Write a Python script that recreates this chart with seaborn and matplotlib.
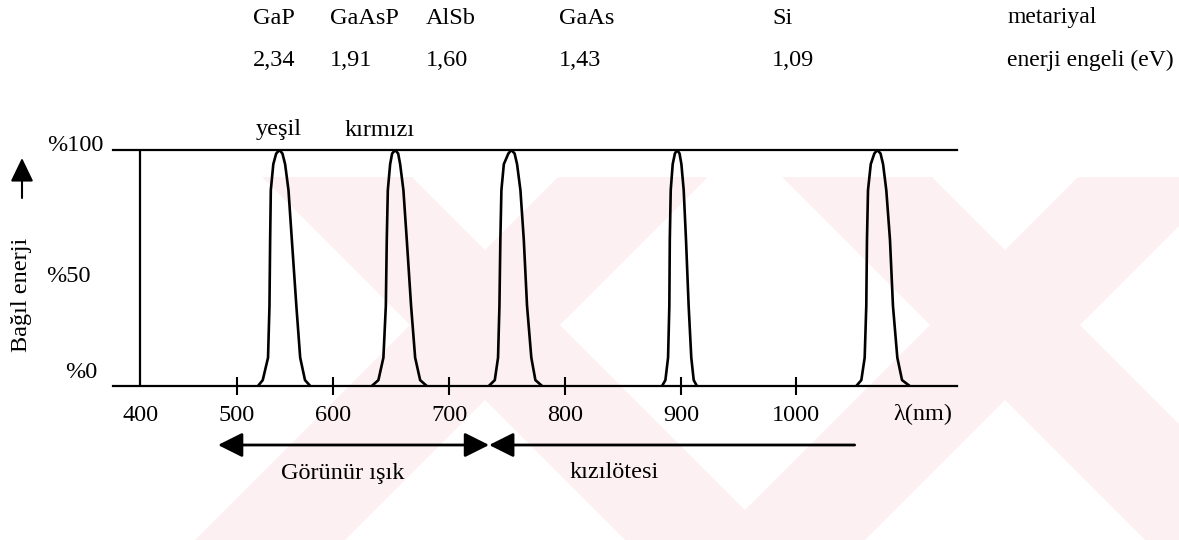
import numpy as np
import pandas as pd
import matplotlib
matplotlib.use('Agg')
import matplotlib.pyplot as plt
from matplotlib.patches import Polygon
import seaborn as sns

# malzemeler ve enerji engelleri
materials = ['GaP', 'GaAsP', 'AlSb', 'GaAs', 'Si']
band_gap = ['2,34', '1,91', '1,60', '1,43', '1,09']

# tepe egrileri (nm, % bagil enerji)
gap_nm = [522, 527, 532.5, 534, 534.7, 535.4, 538, 541, 544.4, 547.5, 550.3, 553.8, 557.3, 562, 566, 571, 576.5]
gap_pct = [0, 2.5, 12, 34, 62, 83, 94, 98.5, 100, 98.5, 94, 83, 62, 34, 12, 2.5, 0]
gaasp_nm = [633.5, 639.2, 643.5, 645.6, 646.4, 647.3, 649.3, 651, 653.6, 656.2, 657.9, 660.7, 663.6, 667.3, 670.8, 675.1, 680.8]
gaasp_pct = [0, 2.5, 12, 34, 62, 83, 94, 98.5, 100, 98.5, 94, 83, 62, 34, 12, 2.5, 0]
alsb_nm = [734.2, 739.4, 742.2, 743.4, 744.2, 745.1, 747.2, 751.1, 753.7, 756.5, 758.6, 761.5, 764.4, 767.2, 770.9, 774.4, 780.2]
alsb_pct = [0, 2.5, 12, 34, 62, 83, 94, 98.5, 100, 98.5, 94, 83, 62, 34, 12, 2.5, 0]
gaas_nm = [883.6, 886.5, 888.8, 889.9, 890.3, 891.1, 892.8, 894.7, 896.6, 898.7, 900.3, 902.3, 904.3, 906.6, 908.9, 911, 913.8]
gaas_pct = [0, 2.5, 12, 34, 62, 83, 94, 98.5, 100, 98.5, 94, 83, 62, 34, 12, 2.5, 0]
si_nm = [1052.4, 1056.8, 1059.7, 1061.1, 1061.7, 1062.6, 1065, 1068.1, 1070.7, 1073.5, 1075.7, 1078.5, 1081.7, 1084.3, 1088.1, 1092.2, 1098.9]
si_pct = [0, 2.5, 12, 34, 62, 83, 94, 98.5, 100, 98.5, 94, 83, 62, 34, 12, 2.5, 0]

x_ticks = [400, 500, 600, 700, 800, 900, 1000]
visible_nm = [480.5, 734.5]    # Görünür ışık
infrared_nm = [734.5, 1051]    # kızılötesi

# orijinal cizimde eksen dogrusal degil (400-600 araligi daha sik)
axis_nm = [300, 400, 500, 600, 700, 800, 900, 1000, 1200]
axis_px = [43, 140, 236.7, 332.7, 449, 565, 681, 796, 1026]

def fwd(x):
    return np.interp(x, axis_nm, axis_px)

def inv(p):
    return np.interp(p, axis_px, axis_nm)

curves = [gap_nm, gaasp_nm, alsb_nm, gaas_nm, si_nm]
levels = [gap_pct, gaasp_pct, alsb_pct, gaas_pct, si_pct]
df = pd.concat([pd.DataFrame({'nm': c, 'pct': l, 'material': m})
                for c, l, m in zip(curves, levels, materials)], ignore_index=True)

sns.set_theme(style='white')
plt.rcParams['font.family'] = ['Liberation Serif', 'DejaVu Serif']

W, H = 1179, 540
fig = plt.figure(figsize=(W / 100, H / 100), dpi=100)
fig.patch.set_facecolor('white')

# soluk pembe filigran (iki buyuk X)
def band(cx, cy, sign, hw=75, slope=1.0, top=177, bottom=540):
    xt = cx + sign * (top - cy) / slope
    xb = cx + sign * (bottom - cy) / slope
    pts = [(xt - hw, top), (xt + hw, top), (xb + hw, bottom), (xb - hw, bottom)]
    return Polygon([(x / W, 1 - y / H) for x, y in pts], closed=True,
                   transform=fig.transFigure, facecolor='#fdf0f2',
                   edgecolor='none', zorder=-10)

for cx in [485, 1005]:
    fig.patches.append(band(cx, 325, 1))
    fig.patches.append(band(cx, 325, -1))

ax = fig.add_axes([113 / W, 1 - 386 / H, (957 - 113) / W, (386 - 150) / H])
ax.patch.set_alpha(0)
ax.set_xscale('function', functions=(fwd, inv))

sns.lineplot(data=df, x='nm', y='pct', units='material', estimator=None,
             sort=False, color='black', lw=1.9, ax=ax)

ax.set_xlim(372, 1140)
ax.set_ylim(0, 100)
ax.axvline(400, color='black', lw=1.6)

for s in ['left', 'right']:
    ax.spines[s].set_visible(False)
for s in ['top', 'bottom']:
    ax.spines[s].set_color('black')
    ax.spines[s].set_linewidth(1.6)

ax.set_xticks(x_ticks)
ax.set_xticklabels([str(t) for t in x_ticks])
ax.xaxis.set_minor_locator(plt.NullLocator())
ax.tick_params(axis='x', bottom=True, direction='inout', length=13, width=1.5,
               color='black', labelsize=17.5, labelcolor='black', pad=7)
ax.xaxis.get_major_ticks()[0].tick1line.set_visible(False)
ax.set_yticks([])
ax.set_xlabel('')
ax.set_ylabel('')


def ftext(x, y, s, **kw):
    kw.setdefault('fontsize', 17.5)
    kw.setdefault('va', 'center')
    fig.text(x / W, 1 - y / H, s, color='black', **kw)


# ust tablo
mat_x = [253, 330, 426, 559, 772]
for name, gap, x in zip(materials, band_gap, mat_x):
    ftext(x, 18, name)
    ftext(x, 60, gap)
ftext(1007, 18, 'metariyal', fontsize=17)
ftext(1007, 60, 'enerji engeli (eV)', fontsize=17)

ftext(256, 130, 'yeşil')
ftext(345, 130, 'kırmızı')

ftext(103, 145, '%100', ha='right')
ftext(91, 277, '%50', ha='right')
ftext(97, 372, '%0', ha='right')
ftext(923, 414, 'λ(nm)', ha='center')
ftext(22, 295, 'Bağıl enerji', rotation=90, ha='center')

ax.annotate('', xy=(22, H - 158), xytext=(22, H - 198), xycoords='figure pixels',
            arrowprops=dict(arrowstyle='-|>,head_length=1.45,head_width=0.7',
                            mutation_scale=10, color='black', lw=1.5,
                            shrinkA=0, shrinkB=0))

arrow_y = (386 - 445) / (386 - 150)
ax.annotate('', xy=(visible_nm[0], arrow_y), xytext=(visible_nm[1], arrow_y),
            xycoords=('data', 'axes fraction'), annotation_clip=False,
            arrowprops=dict(arrowstyle='<|-|>,head_length=1.5,head_width=0.75',
                            mutation_scale=10, color='black', lw=2,
                            shrinkA=0, shrinkB=0))
ax.annotate('', xy=(infrared_nm[0], arrow_y), xytext=(infrared_nm[1], arrow_y),
            xycoords=('data', 'axes fraction'), annotation_clip=False,
            arrowprops=dict(arrowstyle='-|>,head_length=1.5,head_width=0.75',
                            mutation_scale=10, color='black', lw=2,
                            shrinkA=0, shrinkB=0))

ftext(343, 473, 'Görünür ışık', ha='center')
ftext(614, 473, 'kızılötesi', ha='center')

fig.savefig('out.png', dpi=100, facecolor='white')
